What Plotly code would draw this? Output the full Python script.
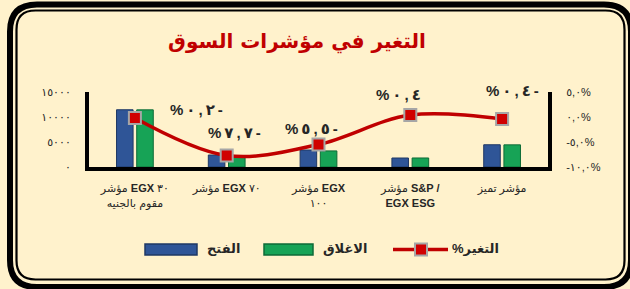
import plotly.graph_objects as go

# ---------------- data ----------------
categories = ["EGX30", "EGX70", "EGX100", "S&P/EGX ESG", "Tamayuz"]
category_labels = [
    "مؤشر <b>EGX</b> ٣٠<br>مقوم بالجنيه",
    "مؤشر <b>EGX</b> ٧٠",
    "مؤشر <b>EGX</b><br>١٠٠",
    "مؤشر <b>S&P /</b><br><b>EGX ESG</b>",
    "مؤشر تميز",
]
open_values = [11450, 2400, 3400, 1800, 4450]
close_values = [11430, 2215, 3215, 1807, 4432]
change_pct = [-0.2, -7.7, -5.5, 0.4, -0.4]

left_tick_values = [0, 5000, 10000, 15000]
left_tick_labels = ["٠", "٥٠٠٠", "١٠٠٠٠", "١٥٠٠٠"]
right_tick_values = [-10, -5, 0, 5]
right_tick_labels = ["\u202D-١٠,٠%\u202C", "\u202D-٥,٠%\u202C", "\u202D٠,٠%\u202C", "\u202D٥,٠%\u202C"]

series_names = ["الفتح", "الاغلاق", "%التغير"]
title_text = "التغير في مؤشرات السوق"

# ---------------- helpers ----------------
AR = str.maketrans("0123456789", "٠١٢٣٤٥٦٧٨٩")


def pct_label(v):
    s = f"{abs(v):.1f}".replace(".", ",").translate(AR)
    chars = ["%"] + list(s) + (["-"] if v < 0 else [])
    return "\u202D" + "\u2009".join(chars) + "\u202C"


W, H = 630, 289
ML, MR, MT, MB = 89, 82, 92, 122
PW, PH = W - ML - MR, H - MT - MB


def px(xp):
    return (xp - ML) / PW


def py(yp):
    return (H - MB - yp) / PH


def rrect(x0, y0, x1, y1, r):
    pts = [
        ("M", [(x0 + r, y0)]),
        ("L", [(x1 - r, y0)]),
        ("Q", [(x1, y0), (x1, y0 + r)]),
        ("L", [(x1, y1 - r)]),
        ("Q", [(x1, y1), (x1 - r, y1)]),
        ("L", [(x0 + r, y1)]),
        ("Q", [(x0, y1), (x0, y1 - r)]),
        ("L", [(x0, y0 + r)]),
        ("Q", [(x0, y0), (x0 + r, y0)]),
    ]
    out = []
    for cmd, ps in pts:
        out.append(cmd + " " + " ".join(f"{px(a):.5f},{py(b):.5f}" for a, b in ps))
    return " ".join(out) + " Z"


FONT = "Liberation Sans, Arial, DejaVu Sans, sans-serif"
BG = "#FFF2CC"
BLUE, BLUE_EDGE = "#2F5597", "#1F3864"
GREEN, GREEN_EDGE = "#17A356", "#0E6B37"
RED = "#C00000"

fig = go.Figure()
fig.add_trace(go.Bar(
    x=categories, y=open_values, name=series_names[0],
    marker=dict(color=BLUE, line=dict(color=BLUE_EDGE, width=1)),
    yaxis="y", showlegend=False,
))
fig.add_trace(go.Bar(
    x=categories, y=close_values, name=series_names[1],
    marker=dict(color=GREEN, line=dict(color=GREEN_EDGE, width=1)),
    yaxis="y", showlegend=False,
))
fig.add_trace(go.Scatter(
    x=categories, y=change_pct, name=series_names[2], yaxis="y2",
    mode="lines+markers", showlegend=False,
    line=dict(color=RED, width=3.5, shape="spline", smoothing=1),
    marker=dict(symbol="square", size=12, color="#D00000",
                line=dict(color="#A6A6A6", width=2)),
))

# data labels for the percentage series
label_shifts = [(62, 9), (8, 23), (-7, 16), (-12, 21), (10, 29)]
for c, v, (dx, dy) in zip(categories, change_pct, label_shifts):
    fig.add_annotation(
        x=c, y=v, xref="x", yref="y2", text=pct_label(v), showarrow=False,
        xshift=dx, yshift=dy,
        font=dict(family=FONT, size=15, color="#262626", weight="bold"),
    )

shapes = [
    dict(type="path", xref="paper", yref="paper", path=rrect(10, 4.5, 631, 287, 27),
         line=dict(color="black", width=6), layer="below"),
    dict(type="path", xref="paper", yref="paper", path=rrect(16.5, 10.5, 624.5, 279.5, 19),
         line=dict(color="black", width=2.2), layer="below"),
]

# ---------------- legend (drawn manually to get wide swatches) ----------------
legend_items = [
    (series_names[0], "bar", BLUE, BLUE_EDGE, 145, 197, 205),
    (series_names[1], "bar", GREEN, GREEN_EDGE, 264, 313, 321),
    (series_names[2], "line", RED, "#A6A6A6", 393, 448, 450),
]
for name, kind, col, edge, x0, x1, tx in legend_items:
    if kind == "bar":
        shapes.append(dict(type="rect", xref="paper", yref="paper",
                           x0=px(x0), x1=px(x1), y0=py(255), y1=py(244),
                           fillcolor=col, line=dict(color=edge, width=1.5)))
    else:
        shapes.append(dict(type="line", xref="paper", yref="paper",
                           x0=px(x0), x1=px(x1), y0=py(249.5), y1=py(249.5),
                           line=dict(color=col, width=3.5)))
        shapes.append(dict(type="rect", xref="paper", yref="paper",
                           x0=px(415), x1=px(427), y0=py(255.5), y1=py(243.5),
                           fillcolor="#D00000", line=dict(color=edge, width=2)))
    fig.add_annotation(
        x=px(tx), y=py(248), xref="paper", yref="paper", xanchor="left", yanchor="middle",
        text=name, showarrow=False,
        font=dict(family=FONT, size=13, color="#262626", weight="bold"),
    )

fig.update_layout(
    width=W, height=H,
    margin=dict(l=ML, r=MR, t=MT, b=MB, pad=0),
    paper_bgcolor=BG, plot_bgcolor=BG,
    barmode="group", bargap=0.56, bargroupgap=0.18,
    shapes=shapes,
    title=dict(text=title_text, x=297 / W, xanchor="center", xref="container",
               y=1 - 41 / H, yanchor="middle", yref="container",
               font=dict(family="DejaVu Sans, sans-serif", size=20, color=RED, weight="bold")),
    font=dict(family=FONT, color="#262626"),
    xaxis=dict(
        type="category", range=[-0.5, 4.5], tickvals=categories, ticktext=category_labels,
        showline=True, linecolor="black", linewidth=4, showgrid=False, zeroline=False,
        ticks="", ticklabelstandoff=8,
        tickfont=dict(family=FONT, size=11, color="#262626"),
    ),
    yaxis=dict(
        range=[0, 15000], tickvals=left_tick_values, ticktext=left_tick_labels,
        showline=True, linecolor="black", linewidth=4, showgrid=False, zeroline=False,
        ticks="", ticklabelstandoff=12,
        tickfont=dict(family=FONT, size=11, color="#262626"),
    ),
    yaxis2=dict(
        range=[-10, 5], overlaying="y", side="right",
        tickvals=right_tick_values, ticktext=right_tick_labels,
        showline=True, linecolor="black", linewidth=4, showgrid=False, zeroline=False,
        ticks="", ticklabelstandoff=12,
        tickfont=dict(family=FONT, size=11, color="#262626"),
    ),
    showlegend=False,
)

fig.write_html(
    "out.html",
    config={"displayModeBar": False},
    post_script="document.body.style.margin='0';document.body.style.overflow='hidden';",
)
